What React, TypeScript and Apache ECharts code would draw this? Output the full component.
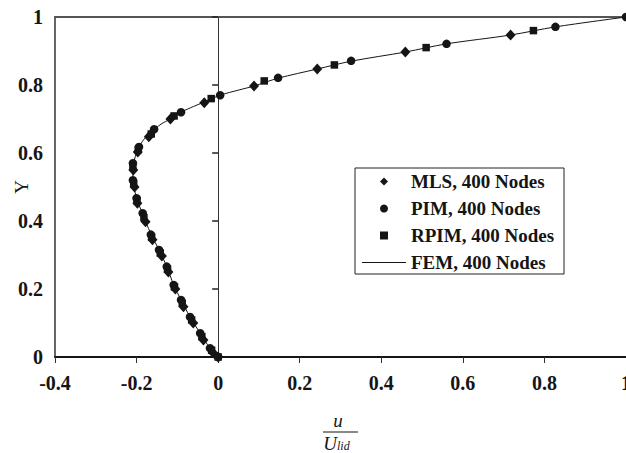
import React, { useEffect, useRef } from "react";
import * as echarts from "echarts";

// u / U_lid versus Y along the vertical centre line
const xTicks = { min: -0.4, max: 1, interval: 0.2 };
const yTicks = { min: 0, max: 1, interval: 0.2 };

const seriesNames = ["MLS, 400 Nodes", "PIM, 400 Nodes", "RPIM, 400 Nodes", "FEM, 400 Nodes"];

// [u, Y]
const mlsPoints: [number, number][] = [
  [0, 0], [-0.012, 0.012], [-0.036, 0.05], [-0.061, 0.1], [-0.085, 0.148], [-0.105, 0.2],
  [-0.122, 0.25], [-0.138, 0.297], [-0.161, 0.345], [-0.178, 0.398], [-0.198, 0.452],
  [-0.205, 0.5], [-0.208, 0.55], [-0.197, 0.603], [-0.17, 0.648], [-0.117, 0.7],
  [-0.034, 0.748], [0.088, 0.797], [0.243, 0.847], [0.459, 0.897], [0.717, 0.947],
];
const pimPoints: [number, number][] = [
  [0, 0], [-0.02, 0.026], [-0.044, 0.07], [-0.069, 0.118], [-0.091, 0.168], [-0.109, 0.212],
  [-0.126, 0.266], [-0.145, 0.315], [-0.165, 0.36], [-0.185, 0.423], [-0.2, 0.467],
  [-0.209, 0.52], [-0.209, 0.57], [-0.194, 0.618], [-0.157, 0.67], [-0.091, 0.72],
  [0.005, 0.77], [0.147, 0.821], [0.326, 0.871], [0.56, 0.921], [0.827, 0.971], [1, 1],
];
const rpimPoints: [number, number][] = [
  [0, 0], [-0.016, 0.02], [-0.04, 0.06], [-0.065, 0.109], [-0.088, 0.158], [-0.107, 0.206],
  [-0.124, 0.258], [-0.142, 0.306], [-0.163, 0.352], [-0.182, 0.41], [-0.199, 0.46],
  [-0.207, 0.51], [-0.209, 0.56], [-0.196, 0.61], [-0.164, 0.656], [-0.108, 0.709],
  [-0.017, 0.76], [0.113, 0.812], [0.285, 0.859], [0.51, 0.91], [0.773, 0.96],
];
const femPoints: [number, number][] = [
  [0, 0], [-0.02, 0.026], [-0.044, 0.07], [-0.069, 0.118], [-0.091, 0.168], [-0.109, 0.212],
  [-0.126, 0.266], [-0.145, 0.315], [-0.163, 0.358], [-0.178, 0.398], [-0.19, 0.435],
  [-0.2, 0.467], [-0.206, 0.5], [-0.209, 0.53], [-0.208, 0.565], [-0.203, 0.59],
  [-0.195, 0.615], [-0.182, 0.64], [-0.165, 0.66], [-0.14, 0.685], [-0.117, 0.7],
  [-0.091, 0.72], [-0.06, 0.737], [-0.034, 0.75], [0.005, 0.77], [0.05, 0.785],
  [0.088, 0.797], [0.147, 0.82], [0.243, 0.847], [0.326, 0.87], [0.459, 0.897],
  [0.56, 0.921], [0.717, 0.947], [0.827, 0.971], [1, 1],
];

const FONT = "'Liberation Serif', 'DejaVu Serif', serif";
const INK = "#151515";

export default function App() {
  const ref = useRef<HTMLDivElement>(null);
  useEffect(() => {
    if (!ref.current) return;
    const chart = echarts.init(ref.current, undefined, { renderer: "svg", width: 626, height: 453 });
    const markerSeries = (name: string, data: [number, number][], symbol: string, size: number | number[]) => ({
      name,
      type: "line",
      xAxisIndex: 0,
      yAxisIndex: 0,
      data,
      symbol,
      symbolSize: size,
      showSymbol: true,
      showAllSymbol: true,
      lineStyle: { opacity: 0, width: 0 },
      itemStyle: { color: INK, borderWidth: 0 },
      z: 3,
    });
    chart.setOption({
      animation: false,
      backgroundColor: "#ffffff",
      grid: { left: 55, right: 0, top: 17, bottom: 96, containLabel: false, outerBoundsMode: "none" },
      legend: {
        orient: "vertical",
        left: 355,
        top: 168,
        data: [
          seriesNames[0],
          seriesNames[1],
          seriesNames[2],
          { name: seriesNames[3], icon: "path://M0,4.5L44,4.5L44,5.5L0,5.5Z" },
        ],
        itemWidth: 44,
        itemHeight: 10,
        itemGap: 8,
        padding: [4, 10, 2, 7],
        borderColor: "#222",
        borderWidth: 1,
        backgroundColor: "#fff",
        textStyle: { fontFamily: FONT, fontWeight: "bold", fontSize: 19, color: INK },
      },
      xAxis: [
        {
          type: "value",
          min: xTicks.min,
          max: xTicks.max,
          interval: xTicks.interval,
          axisLine: { onZero: false, lineStyle: { color: INK, width: 2 } },
          axisTick: { show: true, length: 6, lineStyle: { color: "#333", width: 1 } },
          axisLabel: { fontFamily: FONT, fontWeight: "bold", fontSize: 20, color: INK, margin: 16 },
          splitLine: { show: false },
        },
        {
          type: "value",
          position: "top",
          min: xTicks.min,
          max: xTicks.max,
          axisLine: { show: true, onZero: false, lineStyle: { color: "#555", width: 2 } },
          axisTick: { show: false },
          axisLabel: { show: false },
          splitLine: { show: false },
        },
      ],
      yAxis: [
        {
          type: "value",
          min: yTicks.min,
          max: yTicks.max,
          interval: yTicks.interval,
          axisLine: { show: true, onZero: true, onZeroAxisIndex: 0, lineStyle: { color: "#333", width: 1 } },
          axisTick: { show: true, length: 6, lineStyle: { color: "#222", width: 1.5 } },
          axisLabel: { fontFamily: FONT, fontWeight: "bold", fontSize: 20, color: INK, margin: 12 },
          splitLine: { show: false },
        },
        {
          type: "value",
          position: "left",
          min: yTicks.min,
          max: yTicks.max,
          axisLine: { show: true, onZero: false, lineStyle: { color: "#333", width: 1.5 } },
          axisTick: { show: false },
          axisLabel: { show: false },
          splitLine: { show: false },
        },
      ],
      series: [
        markerSeries(seriesNames[0], mlsPoints, "diamond", [10, 11]),
        markerSeries(seriesNames[1], pimPoints, "circle", 8.5),
        markerSeries(seriesNames[2], rpimPoints, "rect", 7.5),
        {
          name: seriesNames[3],
          type: "line",
          xAxisIndex: 0,
          yAxisIndex: 0,
          data: femPoints,
          symbol: "none",
          smooth: 0.3,
          lineStyle: { color: INK, width: 1 },
          itemStyle: { color: INK },
          z: 2,
        },
      ],
      graphic: [
        {
          type: "text",
          x: 21,
          y: 187,
          rotation: Math.PI / 2,
          style: { text: "Y", fontFamily: FONT, fontSize: 19, fill: INK, textAlign: "center", textVerticalAlign: "middle" },
        },
        {
          type: "text",
          x: 338,
          y: 420,
          style: { text: "u", fontFamily: FONT, fontStyle: "italic", fontSize: 19, fill: INK, textAlign: "center", textVerticalAlign: "middle" },
        },
        {
          type: "line",
          shape: { x1: 323, y1: 432, x2: 358, y2: 432 },
          style: { stroke: INK, lineWidth: 1.2 },
        },
        {
          type: "text",
          x: 330,
          y: 443,
          style: { text: "U", fontFamily: FONT, fontStyle: "italic", fontSize: 19, fill: INK, textAlign: "center", textVerticalAlign: "middle" },
        },
        {
          type: "text",
          x: 337,
          y: 446,
          style: { text: "lid", fontFamily: FONT, fontStyle: "italic", fontSize: 12, fill: INK, textAlign: "left", textVerticalAlign: "middle" },
        },
      ],
    });
    return () => chart.dispose();
  }, []);
  return <div ref={ref} style={{ position: "fixed", left: 0, top: 0, width: 626, height: 453, background: "#fff" }} />;
}
